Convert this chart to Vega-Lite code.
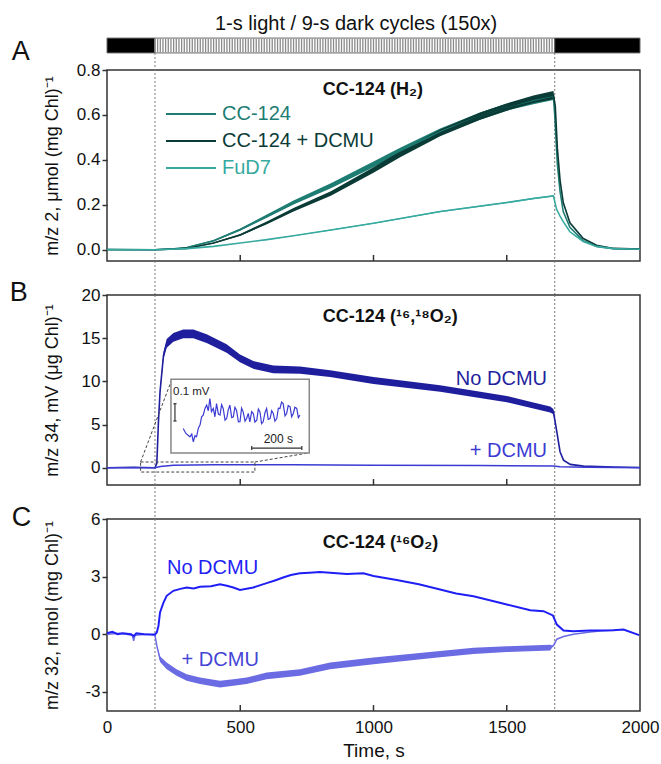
{
  "$schema": "https://vega.github.io/schema/vega-lite/v6.json",
  "padding": {"left": 8, "top": 13, "right": 5, "bottom": 5},
  "background": "white",
  "config": {
    "font": "Liberation Sans",
    "view": {"stroke": "#333333", "strokeWidth": 1.5},
    "axis": {"grid": false, "domain": false, "labelFont": "Liberation Sans", "labelFontSize": 17, "labelColor": "#111111", "titleFont": "Liberation Sans", "titleFontSize": 18, "titleFontWeight": "normal", "titleColor": "#111111", "ticks": true, "tickColor": "#333333", "tickWidth": 1.5, "tickOpacity": 1, "labelFlush": false, "labelOverlap": false},
    "text": {"font": "Liberation Sans"}
  },
  "bounds": "flush",
  "spacing": 34,
  "datasets": {
    "one": [{}],
    "xticks": [{"t": 500}, {"t": 1000}, {"t": 1500}],
    "phases": [
      {"phase": "dark", "start": 0, "end": 180},
      {"phase": "light", "start": 180, "end": 1680},
      {"phase": "dark", "start": 1680, "end": 2000}
    ],
    "lightmarks": [{"t": 180}, {"t": 1680}],
    "pulses": [
      {"t":180},{"t":190},{"t":200},{"t":210},{"t":220},{"t":230},{"t":240},{"t":250},{"t":260},{"t":270},
      {"t":280},{"t":290},{"t":300},{"t":310},{"t":320},{"t":330},{"t":340},{"t":350},{"t":360},{"t":370},
      {"t":380},{"t":390},{"t":400},{"t":410},{"t":420},{"t":430},{"t":440},{"t":450},{"t":460},{"t":470},
      {"t":480},{"t":490},{"t":500},{"t":510},{"t":520},{"t":530},{"t":540},{"t":550},{"t":560},{"t":570},
      {"t":580},{"t":590},{"t":600},{"t":610},{"t":620},{"t":630},{"t":640},{"t":650},{"t":660},{"t":670},
      {"t":680},{"t":690},{"t":700},{"t":710},{"t":720},{"t":730},{"t":740},{"t":750},{"t":760},{"t":770},
      {"t":780},{"t":790},{"t":800},{"t":810},{"t":820},{"t":830},{"t":840},{"t":850},{"t":860},{"t":870},
      {"t":880},{"t":890},{"t":900},{"t":910},{"t":920},{"t":930},{"t":940},{"t":950},{"t":960},{"t":970},
      {"t":980},{"t":990},{"t":1000},{"t":1010},{"t":1020},{"t":1030},{"t":1040},{"t":1050},{"t":1060},{"t":1070},
      {"t":1080},{"t":1090},{"t":1100},{"t":1110},{"t":1120},{"t":1130},{"t":1140},{"t":1150},{"t":1160},{"t":1170},
      {"t":1180},{"t":1190},{"t":1200},{"t":1210},{"t":1220},{"t":1230},{"t":1240},{"t":1250},{"t":1260},{"t":1270},
      {"t":1280},{"t":1290},{"t":1300},{"t":1310},{"t":1320},{"t":1330},{"t":1340},{"t":1350},{"t":1360},{"t":1370},
      {"t":1380},{"t":1390},{"t":1400},{"t":1410},{"t":1420},{"t":1430},{"t":1440},{"t":1450},{"t":1460},{"t":1470},
      {"t":1480},{"t":1490},{"t":1500},{"t":1510},{"t":1520},{"t":1530},{"t":1540},{"t":1550},{"t":1560},{"t":1570},
      {"t":1580},{"t":1590},{"t":1600},{"t":1610},{"t":1620},{"t":1630},{"t":1640},{"t":1650},{"t":1660},{"t":1670}
    ],
    "h2": [
      {"s":"CC-124","t":0,"v":0.002,"lo":0.002,"hi":0.002},
      {"s":"CC-124","t":180,"v":0.0,"lo":0.0,"hi":0.0},
      {"s":"CC-124","t":250,"v":0.004,"lo":0.004,"hi":0.004},
      {"s":"CC-124","t":300,"v":0.01,"lo":0.008,"hi":0.012},
      {"s":"CC-124","t":400,"v":0.04,"lo":0.037,"hi":0.043},
      {"s":"CC-124","t":500,"v":0.09,"lo":0.085,"hi":0.095},
      {"s":"CC-124","t":600,"v":0.15,"lo":0.143,"hi":0.157},
      {"s":"CC-124","t":700,"v":0.21,"lo":0.201,"hi":0.219},
      {"s":"CC-124","t":840,"v":0.285,"lo":0.274,"hi":0.296},
      {"s":"CC-124","t":1000,"v":0.38,"lo":0.367,"hi":0.393},
      {"s":"CC-124","t":1100,"v":0.44,"lo":0.426,"hi":0.454},
      {"s":"CC-124","t":1250,"v":0.525,"lo":0.51,"hi":0.54},
      {"s":"CC-124","t":1400,"v":0.595,"lo":0.579,"hi":0.611},
      {"s":"CC-124","t":1500,"v":0.635,"lo":0.619,"hi":0.651},
      {"s":"CC-124","t":1600,"v":0.665,"lo":0.648,"hi":0.682},
      {"s":"CC-124","t":1675,"v":0.685,"lo":0.667,"hi":0.703},
      {"s":"CC-124","t":1680,"v":0.6,"lo":0.6,"hi":0.6},
      {"s":"CC-124","t":1690,"v":0.38,"lo":0.38,"hi":0.38},
      {"s":"CC-124","t":1700,"v":0.26,"lo":0.26,"hi":0.26},
      {"s":"CC-124","t":1712,"v":0.17,"lo":0.17,"hi":0.17},
      {"s":"CC-124","t":1737,"v":0.1,"lo":0.1,"hi":0.1},
      {"s":"CC-124","t":1787,"v":0.04,"lo":0.04,"hi":0.04},
      {"s":"CC-124","t":1837,"v":0.015,"lo":0.015,"hi":0.015},
      {"s":"CC-124","t":1900,"v":0.005,"lo":0.005,"hi":0.005},
      {"s":"CC-124","t":2000,"v":0.002,"lo":0.002,"hi":0.002},
      {"s":"CC-124 + DCMU","t":0,"v":0.0,"lo":0.0,"hi":0.0},
      {"s":"CC-124 + DCMU","t":180,"v":0.0,"lo":0.0,"hi":0.0},
      {"s":"CC-124 + DCMU","t":300,"v":0.006,"lo":0.005,"hi":0.007},
      {"s":"CC-124 + DCMU","t":400,"v":0.03,"lo":0.028,"hi":0.032},
      {"s":"CC-124 + DCMU","t":500,"v":0.066,"lo":0.062,"hi":0.07},
      {"s":"CC-124 + DCMU","t":600,"v":0.12,"lo":0.114,"hi":0.126},
      {"s":"CC-124 + DCMU","t":700,"v":0.178,"lo":0.17,"hi":0.186},
      {"s":"CC-124 + DCMU","t":840,"v":0.25,"lo":0.24,"hi":0.26},
      {"s":"CC-124 + DCMU","t":1000,"v":0.355,"lo":0.343,"hi":0.367},
      {"s":"CC-124 + DCMU","t":1100,"v":0.425,"lo":0.412,"hi":0.438},
      {"s":"CC-124 + DCMU","t":1250,"v":0.52,"lo":0.505,"hi":0.535},
      {"s":"CC-124 + DCMU","t":1400,"v":0.595,"lo":0.579,"hi":0.611},
      {"s":"CC-124 + DCMU","t":1500,"v":0.635,"lo":0.619,"hi":0.651},
      {"s":"CC-124 + DCMU","t":1600,"v":0.67,"lo":0.653,"hi":0.687},
      {"s":"CC-124 + DCMU","t":1675,"v":0.688,"lo":0.67,"hi":0.706},
      {"s":"CC-124 + DCMU","t":1682,"v":0.64,"lo":0.64,"hi":0.64},
      {"s":"CC-124 + DCMU","t":1690,"v":0.45,"lo":0.45,"hi":0.45},
      {"s":"CC-124 + DCMU","t":1700,"v":0.31,"lo":0.31,"hi":0.31},
      {"s":"CC-124 + DCMU","t":1712,"v":0.21,"lo":0.21,"hi":0.21},
      {"s":"CC-124 + DCMU","t":1737,"v":0.12,"lo":0.12,"hi":0.12},
      {"s":"CC-124 + DCMU","t":1787,"v":0.05,"lo":0.05,"hi":0.05},
      {"s":"CC-124 + DCMU","t":1837,"v":0.02,"lo":0.02,"hi":0.02},
      {"s":"CC-124 + DCMU","t":1900,"v":0.006,"lo":0.006,"hi":0.006},
      {"s":"CC-124 + DCMU","t":2000,"v":0.003,"lo":0.003,"hi":0.003},
      {"s":"FuD7","t":0,"v":0.0,"lo":0.0,"hi":0.0},
      {"s":"FuD7","t":180,"v":0.0,"lo":0.0,"hi":0.0},
      {"s":"FuD7","t":300,"v":0.005,"lo":0.005,"hi":0.005},
      {"s":"FuD7","t":400,"v":0.015,"lo":0.015,"hi":0.015},
      {"s":"FuD7","t":500,"v":0.03,"lo":0.03,"hi":0.03},
      {"s":"FuD7","t":600,"v":0.045,"lo":0.044,"hi":0.046},
      {"s":"FuD7","t":700,"v":0.062,"lo":0.061,"hi":0.063},
      {"s":"FuD7","t":840,"v":0.088,"lo":0.086,"hi":0.09},
      {"s":"FuD7","t":1000,"v":0.118,"lo":0.116,"hi":0.12},
      {"s":"FuD7","t":1250,"v":0.17,"lo":0.167,"hi":0.173},
      {"s":"FuD7","t":1500,"v":0.21,"lo":0.207,"hi":0.213},
      {"s":"FuD7","t":1600,"v":0.228,"lo":0.225,"hi":0.231},
      {"s":"FuD7","t":1675,"v":0.24,"lo":0.237,"hi":0.243},
      {"s":"FuD7","t":1687,"v":0.18,"lo":0.18,"hi":0.18},
      {"s":"FuD7","t":1700,"v":0.15,"lo":0.15,"hi":0.15},
      {"s":"FuD7","t":1712,"v":0.125,"lo":0.125,"hi":0.125},
      {"s":"FuD7","t":1737,"v":0.08,"lo":0.08,"hi":0.08},
      {"s":"FuD7","t":1787,"v":0.037,"lo":0.037,"hi":0.037},
      {"s":"FuD7","t":1837,"v":0.015,"lo":0.015,"hi":0.015},
      {"s":"FuD7","t":1900,"v":0.005,"lo":0.005,"hi":0.005},
      {"s":"FuD7","t":2000,"v":0.002,"lo":0.002,"hi":0.002}
    ],
    "o2b": [
      {"s":"No DCMU","t":0,"v":0.0,"lo":0.0,"hi":0.0},
      {"s":"No DCMU","t":100,"v":0.05,"lo":0.05,"hi":0.05},
      {"s":"No DCMU","t":180,"v":0.0,"lo":0.0,"hi":0.0},
      {"s":"No DCMU","t":187,"v":0.5,"lo":0.5,"hi":0.5},
      {"s":"No DCMU","t":193,"v":5.3,"lo":5.3,"hi":5.3},
      {"s":"No DCMU","t":199,"v":8.8,"lo":8.6,"hi":9.0},
      {"s":"No DCMU","t":212,"v":13.0,"lo":12.6,"hi":13.4},
      {"s":"No DCMU","t":224,"v":14.4,"lo":13.9,"hi":14.9},
      {"s":"No DCMU","t":249,"v":15.1,"lo":14.6,"hi":15.6},
      {"s":"No DCMU","t":286,"v":15.5,"lo":15.0,"hi":16.0},
      {"s":"No DCMU","t":324,"v":15.5,"lo":15.0,"hi":16.0},
      {"s":"No DCMU","t":374,"v":14.95,"lo":14.45,"hi":15.45},
      {"s":"No DCMU","t":449,"v":13.8,"lo":13.3,"hi":14.3},
      {"s":"No DCMU","t":499,"v":12.65,"lo":12.2,"hi":13.1},
      {"s":"No DCMU","t":549,"v":11.9,"lo":11.45,"hi":12.35},
      {"s":"No DCMU","t":624,"v":11.4,"lo":10.95,"hi":11.85},
      {"s":"No DCMU","t":724,"v":11.3,"lo":10.88,"hi":11.72},
      {"s":"No DCMU","t":837,"v":10.9,"lo":10.5,"hi":11.3},
      {"s":"No DCMU","t":1000,"v":10.1,"lo":9.7,"hi":10.5},
      {"s":"No DCMU","t":1250,"v":9.17,"lo":8.8,"hi":9.54},
      {"s":"No DCMU","t":1500,"v":7.94,"lo":7.58,"hi":8.3},
      {"s":"No DCMU","t":1600,"v":7.2,"lo":6.85,"hi":7.55},
      {"s":"No DCMU","t":1663,"v":6.74,"lo":6.4,"hi":7.08},
      {"s":"No DCMU","t":1675,"v":6.5,"lo":6.2,"hi":6.8},
      {"s":"No DCMU","t":1688,"v":4.16,"lo":4.16,"hi":4.16},
      {"s":"No DCMU","t":1700,"v":1.85,"lo":1.85,"hi":1.85},
      {"s":"No DCMU","t":1713,"v":0.88,"lo":0.88,"hi":0.88},
      {"s":"No DCMU","t":1738,"v":0.39,"lo":0.39,"hi":0.39},
      {"s":"No DCMU","t":1788,"v":0.19,"lo":0.19,"hi":0.19},
      {"s":"No DCMU","t":1900,"v":0.08,"lo":0.08,"hi":0.08},
      {"s":"No DCMU","t":2000,"v":0.02,"lo":0.02,"hi":0.02},
      {"s":"+ DCMU","t":0,"v":0.0,"lo":0.0,"hi":0.0},
      {"s":"+ DCMU","t":180,"v":0.0,"lo":0.0,"hi":0.0},
      {"s":"+ DCMU","t":200,"v":0.15,"lo":0.15,"hi":0.15},
      {"s":"+ DCMU","t":250,"v":0.3,"lo":0.3,"hi":0.3},
      {"s":"+ DCMU","t":400,"v":0.35,"lo":0.35,"hi":0.35},
      {"s":"+ DCMU","t":700,"v":0.35,"lo":0.35,"hi":0.35},
      {"s":"+ DCMU","t":1000,"v":0.3,"lo":0.3,"hi":0.3},
      {"s":"+ DCMU","t":1400,"v":0.25,"lo":0.25,"hi":0.25},
      {"s":"+ DCMU","t":1675,"v":0.2,"lo":0.2,"hi":0.2},
      {"s":"+ DCMU","t":1700,"v":0.1,"lo":0.1,"hi":0.1},
      {"s":"+ DCMU","t":1800,"v":0.05,"lo":0.05,"hi":0.05},
      {"s":"+ DCMU","t":2000,"v":0.0,"lo":0.0,"hi":0.0}
    ],
    "inset": [
      {"t":286,"v":4.54},{"t":296,"v":3.97},{"t":311,"v":3.58},{"t":318,"v":3.9},{"t":324,"v":3.0},
      {"t":330,"v":3.7},{"t":336,"v":3.58},{"t":343,"v":4.6},{"t":349,"v":4.93},{"t":355,"v":5.9},
      {"t":361,"v":6.09},{"t":368,"v":6.9},{"t":374,"v":7.25},{"t":380,"v":6.6},{"t":386,"v":8.0},
      {"t":392,"v":6.5},{"t":399,"v":6.86},{"t":405,"v":5.9},{"t":411,"v":7.43},{"t":418,"v":6.2},
      {"t":424,"v":6.09},{"t":430,"v":7.3},{"t":436,"v":6.86},{"t":443,"v":5.5},{"t":449,"v":5.7},
      {"t":455,"v":6.7},{"t":461,"v":7.25},{"t":468,"v":5.8},{"t":474,"v":5.9},{"t":480,"v":7.0},
      {"t":486,"v":6.67},{"t":493,"v":5.3},{"t":499,"v":5.32},{"t":505,"v":6.9},{"t":511,"v":6.47},
      {"t":518,"v":5.4},{"t":524,"v":5.7},{"t":530,"v":6.3},{"t":536,"v":5.32},{"t":543,"v":6.5},
      {"t":549,"v":6.28},{"t":555,"v":5.3},{"t":562,"v":5.51},{"t":568,"v":6.8},{"t":574,"v":6.47},
      {"t":580,"v":5.1},{"t":586,"v":5.32},{"t":593,"v":6.4},{"t":599,"v":6.86},{"t":605,"v":5.6},
      {"t":612,"v":5.7},{"t":618,"v":6.6},{"t":624,"v":6.28},{"t":630,"v":5.4},{"t":637,"v":5.7},
      {"t":643,"v":6.9},{"t":649,"v":6.86},{"t":655,"v":7.6},{"t":661,"v":7.43},{"t":668,"v":6.0},
      {"t":674,"v":6.28},{"t":680,"v":7.2},{"t":687,"v":7.05},{"t":693,"v":5.9},{"t":699,"v":6.28},
      {"t":705,"v":7.0},{"t":712,"v":6.86},{"t":718,"v":5.8},{"t":724,"v":6.09}
    ],
    "o2c": [
      {"s":"No DCMU","t":0,"v":0.05,"lo":0.05,"hi":0.05},
      {"s":"No DCMU","t":20,"v":0.12,"lo":0.12,"hi":0.12},
      {"s":"No DCMU","t":40,"v":0.0,"lo":0.0,"hi":0.0},
      {"s":"No DCMU","t":60,"v":0.05,"lo":0.05,"hi":0.05},
      {"s":"No DCMU","t":90,"v":0.0,"lo":0.0,"hi":0.0},
      {"s":"No DCMU","t":100,"v":-0.1,"lo":-0.1,"hi":-0.1},
      {"s":"No DCMU","t":110,"v":0.05,"lo":0.05,"hi":0.05},
      {"s":"No DCMU","t":140,"v":0.0,"lo":0.0,"hi":0.0},
      {"s":"No DCMU","t":180,"v":-0.02,"lo":-0.02,"hi":-0.02},
      {"s":"No DCMU","t":187,"v":0.1,"lo":0.1,"hi":0.1},
      {"s":"No DCMU","t":193,"v":0.43,"lo":0.43,"hi":0.43},
      {"s":"No DCMU","t":199,"v":1.13,"lo":1.13,"hi":1.13},
      {"s":"No DCMU","t":212,"v":1.65,"lo":1.65,"hi":1.65},
      {"s":"No DCMU","t":224,"v":2.0,"lo":2.0,"hi":2.0},
      {"s":"No DCMU","t":249,"v":2.26,"lo":2.26,"hi":2.26},
      {"s":"No DCMU","t":275,"v":2.36,"lo":2.36,"hi":2.36},
      {"s":"No DCMU","t":299,"v":2.43,"lo":2.43,"hi":2.43},
      {"s":"No DCMU","t":325,"v":2.38,"lo":2.38,"hi":2.38},
      {"s":"No DCMU","t":349,"v":2.47,"lo":2.47,"hi":2.47},
      {"s":"No DCMU","t":390,"v":2.5,"lo":2.5,"hi":2.5},
      {"s":"No DCMU","t":424,"v":2.6,"lo":2.6,"hi":2.6},
      {"s":"No DCMU","t":450,"v":2.52,"lo":2.52,"hi":2.52},
      {"s":"No DCMU","t":474,"v":2.43,"lo":2.43,"hi":2.43},
      {"s":"No DCMU","t":499,"v":2.3,"lo":2.3,"hi":2.3},
      {"s":"No DCMU","t":549,"v":2.43,"lo":2.43,"hi":2.43},
      {"s":"No DCMU","t":599,"v":2.66,"lo":2.66,"hi":2.66},
      {"s":"No DCMU","t":630,"v":2.8,"lo":2.8,"hi":2.8},
      {"s":"No DCMU","t":661,"v":2.95,"lo":2.95,"hi":2.95},
      {"s":"No DCMU","t":690,"v":3.08,"lo":3.08,"hi":3.08},
      {"s":"No DCMU","t":724,"v":3.17,"lo":3.17,"hi":3.17},
      {"s":"No DCMU","t":760,"v":3.2,"lo":3.2,"hi":3.2},
      {"s":"No DCMU","t":799,"v":3.24,"lo":3.24,"hi":3.24},
      {"s":"No DCMU","t":837,"v":3.2,"lo":3.2,"hi":3.2},
      {"s":"No DCMU","t":900,"v":3.14,"lo":3.14,"hi":3.14},
      {"s":"No DCMU","t":962,"v":3.17,"lo":3.17,"hi":3.17},
      {"s":"No DCMU","t":1000,"v":3.03,"lo":3.03,"hi":3.03},
      {"s":"No DCMU","t":1087,"v":2.82,"lo":2.82,"hi":2.82},
      {"s":"No DCMU","t":1170,"v":2.6,"lo":2.6,"hi":2.6},
      {"s":"No DCMU","t":1250,"v":2.33,"lo":2.33,"hi":2.33},
      {"s":"No DCMU","t":1310,"v":2.12,"lo":2.12,"hi":2.12},
      {"s":"No DCMU","t":1375,"v":1.98,"lo":1.98,"hi":1.98},
      {"s":"No DCMU","t":1440,"v":1.76,"lo":1.76,"hi":1.76},
      {"s":"No DCMU","t":1500,"v":1.55,"lo":1.55,"hi":1.55},
      {"s":"No DCMU","t":1588,"v":1.25,"lo":1.25,"hi":1.25},
      {"s":"No DCMU","t":1638,"v":1.2,"lo":1.2,"hi":1.2},
      {"s":"No DCMU","t":1673,"v":0.98,"lo":0.98,"hi":0.98},
      {"s":"No DCMU","t":1688,"v":0.5,"lo":0.5,"hi":0.5},
      {"s":"No DCMU","t":1713,"v":0.19,"lo":0.19,"hi":0.19},
      {"s":"No DCMU","t":1750,"v":0.16,"lo":0.16,"hi":0.16},
      {"s":"No DCMU","t":1813,"v":0.19,"lo":0.19,"hi":0.19},
      {"s":"No DCMU","t":1900,"v":0.21,"lo":0.21,"hi":0.21},
      {"s":"No DCMU","t":1938,"v":0.24,"lo":0.24,"hi":0.24},
      {"s":"No DCMU","t":1997,"v":-0.05,"lo":-0.05,"hi":-0.05},
      {"s":"+ DCMU","t":0,"v":0.0,"lo":0.0,"hi":0.0},
      {"s":"+ DCMU","t":50,"v":0.05,"lo":0.05,"hi":0.05},
      {"s":"+ DCMU","t":95,"v":-0.05,"lo":-0.05,"hi":-0.05},
      {"s":"+ DCMU","t":100,"v":-0.35,"lo":-0.35,"hi":-0.35},
      {"s":"+ DCMU","t":105,"v":-0.05,"lo":-0.05,"hi":-0.05},
      {"s":"+ DCMU","t":150,"v":0.0,"lo":0.0,"hi":0.0},
      {"s":"+ DCMU","t":180,"v":-0.05,"lo":-0.05,"hi":-0.05},
      {"s":"+ DCMU","t":187,"v":-0.6,"lo":-0.6,"hi":-0.6},
      {"s":"+ DCMU","t":199,"v":-1.3,"lo":-1.45,"hi":-1.15},
      {"s":"+ DCMU","t":224,"v":-1.65,"lo":-1.82,"hi":-1.48},
      {"s":"+ DCMU","t":261,"v":-2.0,"lo":-2.17,"hi":-1.83},
      {"s":"+ DCMU","t":299,"v":-2.26,"lo":-2.43,"hi":-2.09},
      {"s":"+ DCMU","t":349,"v":-2.43,"lo":-2.6,"hi":-2.26},
      {"s":"+ DCMU","t":424,"v":-2.6,"lo":-2.77,"hi":-2.43},
      {"s":"+ DCMU","t":474,"v":-2.52,"lo":-2.69,"hi":-2.35},
      {"s":"+ DCMU","t":524,"v":-2.43,"lo":-2.6,"hi":-2.26},
      {"s":"+ DCMU","t":599,"v":-2.17,"lo":-2.34,"hi":-2.0},
      {"s":"+ DCMU","t":724,"v":-2.0,"lo":-2.17,"hi":-1.83},
      {"s":"+ DCMU","t":837,"v":-1.65,"lo":-1.82,"hi":-1.48},
      {"s":"+ DCMU","t":1000,"v":-1.39,"lo":-1.56,"hi":-1.22},
      {"s":"+ DCMU","t":1250,"v":-1.04,"lo":-1.2,"hi":-0.88},
      {"s":"+ DCMU","t":1375,"v":-0.87,"lo":-1.03,"hi":-0.71},
      {"s":"+ DCMU","t":1500,"v":-0.78,"lo":-0.93,"hi":-0.63},
      {"s":"+ DCMU","t":1663,"v":-0.7,"lo":-0.85,"hi":-0.55},
      {"s":"+ DCMU","t":1675,"v":-0.6,"lo":-0.6,"hi":-0.6},
      {"s":"+ DCMU","t":1688,"v":-0.26,"lo":-0.26,"hi":-0.26},
      {"s":"+ DCMU","t":1713,"v":-0.12,"lo":-0.12,"hi":-0.12},
      {"s":"+ DCMU","t":1750,"v":0.0,"lo":0.0,"hi":0.0},
      {"s":"+ DCMU","t":1813,"v":0.12,"lo":0.12,"hi":0.12},
      {"s":"+ DCMU","t":1850,"v":0.17,"lo":0.17,"hi":0.17},
      {"s":"+ DCMU","t":1900,"v":0.2,"lo":0.2,"hi":0.2}
    ]
  },
  "vconcat": [
    {
      "width": 533,
      "height": 191,
      "layer": [
        {
          "data": {"name": "phases"},
          "mark": {"type": "rect", "stroke": "#666666", "strokeWidth": 1},
          "encoding": {
            "x": {"field": "start", "type": "quantitative", "scale": {"domain": [0, 2000], "nice": false, "zero": false}, "axis": {"values": [500, 1000, 1500], "labels": false, "ticks": false, "title": null}},
            "x2": {"field": "end"},
            "y": {"datum": 0.942, "type": "quantitative", "scale": {"domain": [-0.05, 0.8], "nice": false, "zero": false}, "axis": {"values": [0, 0.2, 0.4, 0.6, 0.8], "format": ".1f", "title": "m/z 2, μmol (mg Chl)⁻¹", "tickSize": 5, "labelPadding": 2, "minExtent": 41, "maxExtent": 41, "titlePadding": 5}},
            "y2": {"datum": 0.876},
            "fill": {"field": "phase", "type": "nominal", "scale": {"domain": ["dark", "light"], "range": ["#000000", "#ffffff"]}, "legend": null}
          }
        },
        {
          "data": {"name": "pulses"},
          "mark": {"type": "rule", "color": "#8a8a8a", "strokeWidth": 1.3},
          "encoding": {
            "x": {"field": "t", "type": "quantitative"},
            "y": {"datum": 0.939},
            "y2": {"datum": 0.879}
          }
        },
        {
          "data": {"name": "xticks"},
          "mark": {"type": "rule", "color": "#333333", "strokeWidth": 1.5},
          "encoding": {
            "x": {"field": "t", "type": "quantitative"},
            "y": {"datum": -0.05},
            "y2": {"datum": -0.023}
          }
        },
        {
          "data": {"name": "lightmarks"},
          "mark": {"type": "rule", "color": "#777777", "strokeDash": [2, 2], "strokeWidth": 1},
          "encoding": {
            "x": {"field": "t", "type": "quantitative"},
            "y": {"datum": 0.876},
            "y2": {"datum": -0.201}
          }
        },
        {
          "data": {"name": "h2"},
          "mark": {"type": "area", "opacity": 1},
          "encoding": {
            "x": {"field": "t", "type": "quantitative"},
            "y": {"field": "lo", "type": "quantitative", "stack": null},
            "y2": {"field": "hi"},
            "color": {"field": "s", "type": "nominal", "scale": {"domain": ["CC-124", "CC-124 + DCMU", "FuD7"], "range": ["#1e7d73", "#0b3b36", "#37aaa0"]}}
          }
        },
        {
          "data": {"name": "h2"},
          "mark": {"type": "line", "strokeWidth": 1.6},
          "encoding": {
            "x": {"field": "t", "type": "quantitative"},
            "y": {"field": "v", "type": "quantitative"},
            "color": {"field": "s", "type": "nominal", "scale": {"domain": ["CC-124", "CC-124 + DCMU", "FuD7"], "range": ["#1e7d73", "#0b3b36", "#37aaa0"]},
              "legend": {"orient": "none", "legendX": 58, "legendY": 34, "title": null, "symbolType": "stroke", "symbolSize": 2500, "symbolStrokeWidth": 2, "labelFont": "Liberation Sans", "labelFontSize": 20, "labelOffset": 5, "clipHeight": 20, "rowPadding": 7, "padding": 0, "labelLimit": 400,
                "encode": {"labels": {"update": {"fill": {"scale": "color", "field": "value"}}}}}}
          }
        },
        {
          "data": {"name": "one"},
          "mark": {"type": "text", "text": "CC-124 (H₂)", "fontWeight": "bold", "fontSize": 18, "align": "left", "baseline": "alphabetic", "color": "#111111"},
          "encoding": {"x": {"datum": 810}, "y": {"datum": 0.69}}
        },
        {
          "data": {"name": "one"},
          "mark": {"type": "text", "text": "A", "fontSize": 27, "align": "left", "baseline": "alphabetic", "color": "#111111"},
          "encoding": {"x": {"datum": -357}, "y": {"datum": 0.846}}
        },
        {
          "data": {"name": "one"},
          "mark": {"type": "text", "text": "1-s light / 9-s dark cycles (150x)", "fontSize": 20, "align": "left", "baseline": "alphabetic", "color": "#111111"},
          "encoding": {"x": {"datum": 405}, "y": {"datum": 0.979}}
        }
      ]
    },
    {
      "width": 533,
      "height": 190,
      "layer": [
        {
          "data": {"name": "lightmarks"},
          "mark": {"type": "rule", "color": "#777777", "strokeDash": [2, 2], "strokeWidth": 1},
          "encoding": {
            "x": {"field": "t", "type": "quantitative", "scale": {"domain": [0, 2000], "nice": false, "zero": false}, "axis": {"values": [500, 1000, 1500], "labels": false, "ticks": false, "title": null}},
            "y": {"datum": 20, "type": "quantitative", "scale": {"domain": [-2, 20], "nice": false, "zero": false}, "axis": {"values": [0, 5, 10, 15, 20], "title": "m/z 34, mV (μg Chl)⁻¹", "tickSize": 5, "labelPadding": 2, "minExtent": 41, "maxExtent": 41, "titlePadding": 5}},
            "y2": {"datum": -5.9}
          }
        },
        {
          "data": {"name": "xticks"},
          "mark": {"type": "rule", "color": "#333333", "strokeWidth": 1.5},
          "encoding": {
            "x": {"field": "t", "type": "quantitative"},
            "y": {"datum": -2},
            "y2": {"datum": -1.31}
          }
        },
        {
          "data": {"name": "o2b"},
          "transform": [{"filter": {"field": "s", "equal": "No DCMU"}}],
          "mark": {"type": "area", "color": "#1f1f9e", "opacity": 1},
          "encoding": {
            "x": {"field": "t", "type": "quantitative"},
            "y": {"field": "lo", "type": "quantitative", "stack": null},
            "y2": {"field": "hi"}
          }
        },
        {
          "data": {"name": "o2b"},
          "transform": [{"filter": {"field": "s", "equal": "No DCMU"}}],
          "mark": {"type": "line", "color": "#1f1f9e", "strokeWidth": 1.6},
          "encoding": {
            "x": {"field": "t", "type": "quantitative"},
            "y": {"field": "v", "type": "quantitative"}
          }
        },
        {
          "data": {"name": "o2b"},
          "transform": [{"filter": {"field": "s", "equal": "+ DCMU"}}],
          "mark": {"type": "line", "color": "#3b3bd4", "strokeWidth": 1.5},
          "encoding": {
            "x": {"field": "t", "type": "quantitative"},
            "y": {"field": "v", "type": "quantitative"}
          }
        },
        {
          "data": {"name": "one"},
          "mark": {"type": "rect", "fill": null, "fillOpacity": 0, "stroke": "#444444", "strokeDash": [3, 2], "strokeWidth": 1},
          "encoding": {"x": {"datum": 126}, "x2": {"datum": 555}, "y": {"datum": 0.66}, "y2": {"datum": -0.5}}
        },
        {
          "data": {"name": "one"},
          "mark": {"type": "rule", "color": "#444444", "strokeDash": [3, 2], "strokeWidth": 1},
          "encoding": {"x": {"datum": 126}, "y": {"datum": 0.66}, "x2": {"datum": 243}, "y2": {"datum": 10.2}}
        },
        {
          "data": {"name": "one"},
          "mark": {"type": "rule", "color": "#444444", "strokeDash": [3, 2], "strokeWidth": 1},
          "encoding": {"x": {"datum": 555}, "y": {"datum": 0.66}, "x2": {"datum": 757}, "y2": {"datum": 1.72}}
        },
        {
          "data": {"name": "one"},
          "mark": {"type": "rect", "fill": "#ffffff", "stroke": "#888888", "strokeWidth": 1.5},
          "encoding": {"x": {"datum": 240}, "x2": {"datum": 759}, "y": {"datum": 10.24}, "y2": {"datum": 1.7}}
        },
        {
          "data": {"name": "inset"},
          "mark": {"type": "line", "color": "#3b3bd4", "strokeWidth": 1.2},
          "encoding": {
            "x": {"field": "t", "type": "quantitative"},
            "y": {"field": "v", "type": "quantitative"}
          }
        },
        {
          "data": {"name": "one"},
          "mark": {"type": "rule", "color": "#333333", "strokeWidth": 1.2},
          "encoding": {"x": {"datum": 255}, "y": {"datum": 7.41}, "y2": {"datum": 5.41}}
        },
        {
          "data": {"name": "one"},
          "mark": {"type": "rule", "color": "#333333", "strokeWidth": 1.2},
          "encoding": {"x": {"datum": 249}, "x2": {"datum": 261}, "y": {"datum": 7.41}}
        },
        {
          "data": {"name": "one"},
          "mark": {"type": "rule", "color": "#333333", "strokeWidth": 1.2},
          "encoding": {"x": {"datum": 249}, "x2": {"datum": 261}, "y": {"datum": 5.41}}
        },
        {
          "data": {"name": "one"},
          "mark": {"type": "rule", "color": "#333333", "strokeWidth": 1.2},
          "encoding": {"x": {"datum": 543}, "x2": {"datum": 731}, "y": {"datum": 2.28}}
        },
        {
          "data": {"name": "one"},
          "mark": {"type": "rule", "color": "#333333", "strokeWidth": 1.2},
          "encoding": {"x": {"datum": 543}, "y": {"datum": 2.51}, "y2": {"datum": 2.05}}
        },
        {
          "data": {"name": "one"},
          "mark": {"type": "rule", "color": "#333333", "strokeWidth": 1.2},
          "encoding": {"x": {"datum": 731}, "y": {"datum": 2.51}, "y2": {"datum": 2.05}}
        },
        {
          "data": {"name": "one"},
          "mark": {"type": "text", "text": "0.1 mV", "fontSize": 11.5, "align": "left", "baseline": "alphabetic", "color": "#222222"},
          "encoding": {"x": {"datum": 248}, "y": {"datum": 8.45}}
        },
        {
          "data": {"name": "one"},
          "mark": {"type": "text", "text": "200 s", "fontSize": 12, "align": "center", "baseline": "alphabetic", "color": "#222222"},
          "encoding": {"x": {"datum": 643}, "y": {"datum": 2.9}}
        },
        {
          "data": {"name": "one"},
          "mark": {"type": "text", "text": "CC-124 (¹⁶,¹⁸O₂)", "fontWeight": "bold", "fontSize": 18, "align": "left", "baseline": "alphabetic", "color": "#111111"},
          "encoding": {"x": {"datum": 810}, "y": {"datum": 16.9}}
        },
        {
          "data": {"name": "one"},
          "mark": {"type": "text", "text": "No DCMU", "fontSize": 20, "align": "right", "baseline": "alphabetic", "color": "#1f1f9e"},
          "encoding": {"x": {"datum": 1651}, "y": {"datum": 9.58}}
        },
        {
          "data": {"name": "one"},
          "mark": {"type": "text", "text": "+ DCMU", "fontSize": 20, "align": "right", "baseline": "alphabetic", "color": "#3b3bd4"},
          "encoding": {"x": {"datum": 1651}, "y": {"datum": 1.24}}
        },
        {
          "data": {"name": "one"},
          "mark": {"type": "text", "text": "B", "fontSize": 27, "align": "left", "baseline": "alphabetic", "color": "#111111"},
          "encoding": {"x": {"datum": -365}, "y": {"datum": 19.3}}
        }
      ]
    },
    {
      "width": 533,
      "height": 192,
      "layer": [
        {
          "data": {"name": "lightmarks"},
          "mark": {"type": "rule", "color": "#777777", "strokeDash": [2, 2], "strokeWidth": 1},
          "encoding": {
            "x": {"field": "t", "type": "quantitative", "scale": {"domain": [0, 2000], "nice": false, "zero": false}, "axis": {"values": [0, 500, 1000, 1500, 2000], "format": "d", "ticks": false, "labelPadding": 8, "title": "Time, s", "titleFontSize": 19, "titlePadding": 6}},
            "y": {"datum": 6, "type": "quantitative", "scale": {"domain": [-4, 6], "nice": false, "zero": false}, "axis": {"values": [-3, 0, 3, 6], "labelExpr": "'' + datum.value", "title": "m/z 32, nmol (mg Chl)⁻¹", "tickSize": 5, "labelPadding": 2, "minExtent": 41, "maxExtent": 41, "titlePadding": 5}},
            "y2": {"datum": -4}
          }
        },
        {
          "data": {"name": "xticks"},
          "mark": {"type": "rule", "color": "#333333", "strokeWidth": 1.5},
          "encoding": {
            "x": {"field": "t", "type": "quantitative"},
            "y": {"datum": -4},
            "y2": {"datum": -3.69}
          }
        },
        {
          "data": {"name": "o2c"},
          "transform": [{"filter": {"field": "s", "equal": "+ DCMU"}}],
          "mark": {"type": "area", "color": "#6b6be3", "opacity": 1},
          "encoding": {
            "x": {"field": "t", "type": "quantitative"},
            "y": {"field": "lo", "type": "quantitative", "stack": null},
            "y2": {"field": "hi"}
          }
        },
        {
          "data": {"name": "o2c"},
          "transform": [{"filter": {"field": "s", "equal": "+ DCMU"}}],
          "mark": {"type": "line", "color": "#6b6be3", "strokeWidth": 1.5},
          "encoding": {
            "x": {"field": "t", "type": "quantitative"},
            "y": {"field": "v", "type": "quantitative"}
          }
        },
        {
          "data": {"name": "o2c"},
          "transform": [{"filter": {"field": "s", "equal": "No DCMU"}}],
          "mark": {"type": "line", "color": "#1f1ff5", "strokeWidth": 2},
          "encoding": {
            "x": {"field": "t", "type": "quantitative"},
            "y": {"field": "v", "type": "quantitative"}
          }
        },
        {
          "data": {"name": "one"},
          "mark": {"type": "text", "text": "CC-124 (¹⁶O₂)", "fontWeight": "bold", "fontSize": 18, "align": "left", "baseline": "alphabetic", "color": "#111111"},
          "encoding": {"x": {"datum": 810}, "y": {"datum": 4.49}}
        },
        {
          "data": {"name": "one"},
          "mark": {"type": "text", "text": "No DCMU", "fontSize": 20, "align": "left", "baseline": "alphabetic", "color": "#1f1ff5"},
          "encoding": {"x": {"datum": 225}, "y": {"datum": 3.15}}
        },
        {
          "data": {"name": "one"},
          "mark": {"type": "text", "text": "+ DCMU", "fontSize": 20, "align": "left", "baseline": "alphabetic", "color": "#4545d5"},
          "encoding": {"x": {"datum": 280}, "y": {"datum": -1.64}}
        },
        {
          "data": {"name": "one"},
          "mark": {"type": "text", "text": "C", "fontSize": 27, "align": "left", "baseline": "alphabetic", "color": "#111111"},
          "encoding": {"x": {"datum": -357}, "y": {"datum": 5.64}}
        }
      ]
    }
  ]
}
